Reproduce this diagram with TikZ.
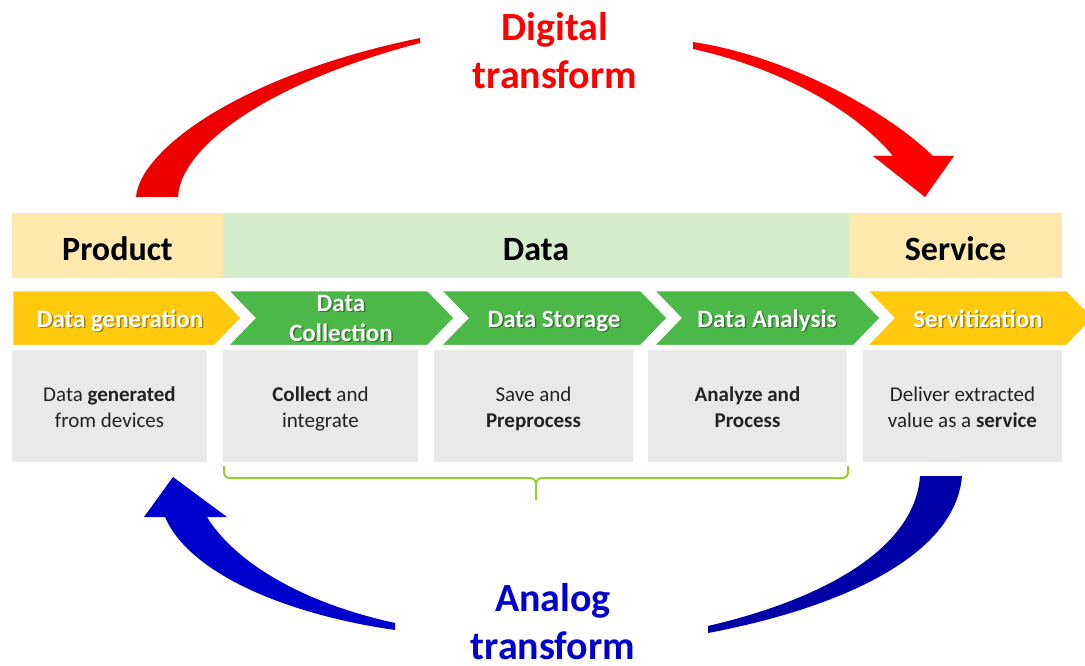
\documentclass[tikz,border=0pt]{standalone}
\usepackage{fontspec}
\setmainfont{Carlito}
\definecolor{prodY}{HTML}{FDE8AE}
\definecolor{dataG}{HTML}{D4EECB}
\definecolor{chevY}{HTML}{FFC90E}
\definecolor{chevG}{HTML}{4CB848}
\definecolor{descG}{HTML}{E9E9E9}
\definecolor{braceG}{HTML}{9ACD32}
\definecolor{redA}{HTML}{EE0000}
\definecolor{redB}{HTML}{FF0000}
\definecolor{blueA}{HTML}{0000CC}
\definecolor{blueB}{HTML}{0000A8}
\definecolor{txtDark}{HTML}{222222}
\begin{document}
\begin{tikzpicture}[x=1pt,y=-1pt,
  band/.style={fill=#1,draw=none,inner sep=0,minimum height=65,
    font=\fontsize{34}{40}\selectfont\bfseries,text height=29,text depth=0,text=black},
  chevshape/.style={fill=#1,draw=white,line width=2.5,line join=miter},
  chevtext/.style={inner sep=0,align=center,anchor=base,
    font=\fontsize{25}{30}\selectfont\bfseries,text=white},
  chevshadow/.style={chevtext,text=black,opacity=0.35},
  descbox/.style={fill=descG,draw=none,inner sep=0,minimum height=112},
  desctext/.style={inner sep=0,align=center,anchor=base,
    font=\fontsize{21}{26}\selectfont,text=txtDark},
  bigtitle/.style={inner sep=0,align=center,anchor=base,
    font=\fontsize{40}{48}\selectfont\bfseries,text=#1},
  bracket/.style={draw=braceG,line width=2}
]
\useasboundingbox (0,0) rectangle (1085,666);

% top band
\node[band=prodY,minimum width=211] (product) at (117.5,245.5) {Product};
\node[band=dataG,minimum width=626] (data) at (536,245.5) {Data};
\node[band=prodY,minimum width=213] (service) at (955.5,245.5) {Service};

% chevrons
\fill[chevshape=chevY] (12,290) -- (215,290) -- (242,318) -- (215,346) -- (12,346) -- cycle;
\fill[chevshape=chevG] (227,290) -- (428,290) -- (455,318) -- (428,346) -- (227,346) -- (254,318) -- cycle;
\fill[chevshape=chevG] (440,290) -- (641,290) -- (668,318) -- (641,346) -- (440,346) -- (467,318) -- cycle;
\fill[chevshape=chevG] (653,290) -- (854,290) -- (881,318) -- (854,346) -- (653,346) -- (680,318) -- cycle;
\fill[chevshape=chevY] (866,290) -- (1067,290) -- (1094,318) -- (1067,346) -- (866,346) -- (893,318) -- cycle;

\node[chevshadow] (c1s) at (121.5,328.5) {Data generation};
\node[chevshadow] (c2s) at (342.5,342.5) {Data\\Collection};
\node[chevshadow] (c3s) at (555.5,328.5) {Data Storage};
\node[chevshadow] (c4s) at (768.5,328.5) {Data Analysis};
\node[chevshadow] (c5s) at (979.5,328.5) {Servitization};
\node[chevtext] (c1) at (120,327) {Data generation};
\node[chevtext] (c2) at (341,341) {Data\\Collection};
\node[chevtext] (c3) at (554,327) {Data Storage};
\node[chevtext] (c4) at (767,327) {Data Analysis};
\node[chevtext] (c5) at (978,327) {Servitization};

% description boxes
\node[descbox,minimum width=195] (d1) at (109.5,406) {};
\node[descbox,minimum width=195] (d2) at (320.5,406) {};
\node[descbox,minimum width=199] (d3) at (533.5,406) {};
\node[descbox,minimum width=199] (d4) at (747.5,406) {};
\node[descbox,minimum width=199] (d5) at (962.5,406) {};
\node[desctext] (t1) at (109.5,427) {Data \textbf{generated}\\from devices};
\node[desctext] (t2) at (320.5,427) {\textbf{Collect} and\\integrate};
\node[desctext] (t3) at (533.5,427) {Save and\\\textbf{Preprocess}};
\node[desctext] (t4) at (747.5,427) {\textbf{Analyze and}\\\textbf{Process}};
\node[desctext] (t5) at (962.5,427) {Deliver extracted\\value as a \textbf{service}};

% bracket
\draw[bracket,rounded corners=5] (224,466) |- (529,478);
\draw[bracket] (529,478) .. controls (534,478) and (536,480) .. (536,486) -- (536,500);
\draw[bracket] (536,486) .. controls (536,480) and (538,478) .. (543,478);
\draw[bracket,rounded corners=5] (543,478) -| (848,466);

% titles
\node[bigtitle=redB] (digital) at (555,89) {Digital\\transform};
\node[bigtitle=blueA] (analog) at (553,659) {Analog\\transform};

% red arrows
\fill[redA] (136,197) .. controls (140,150) and (240,75) .. (420,38) -- (420,43)
  .. controls (260,85) and (180,150) .. (178,197) -- cycle;
\fill[redB] (693,42) .. controls (780,55) and (880,105) .. (933,156) -- (954,156) -- (925,197)
  -- (873,156) -- (893,156) .. controls (855,110) and (780,68) .. (693,49) -- cycle;

% blue arrows
\fill[blueA] (395,630) .. controls (290,615) and (190,575) .. (165,517) -- (144,517) -- (173,477)
  -- (227,517) -- (207,517) .. controls (230,555) and (290,600) .. (395,623) -- cycle;
\fill[blueB] (920,476) -- (962,476) .. controls (955,560) and (830,610) .. (708,633) -- (708,626)
  .. controls (820,600) and (915,550) .. (920,476) -- cycle;
\end{tikzpicture}
\end{document}
